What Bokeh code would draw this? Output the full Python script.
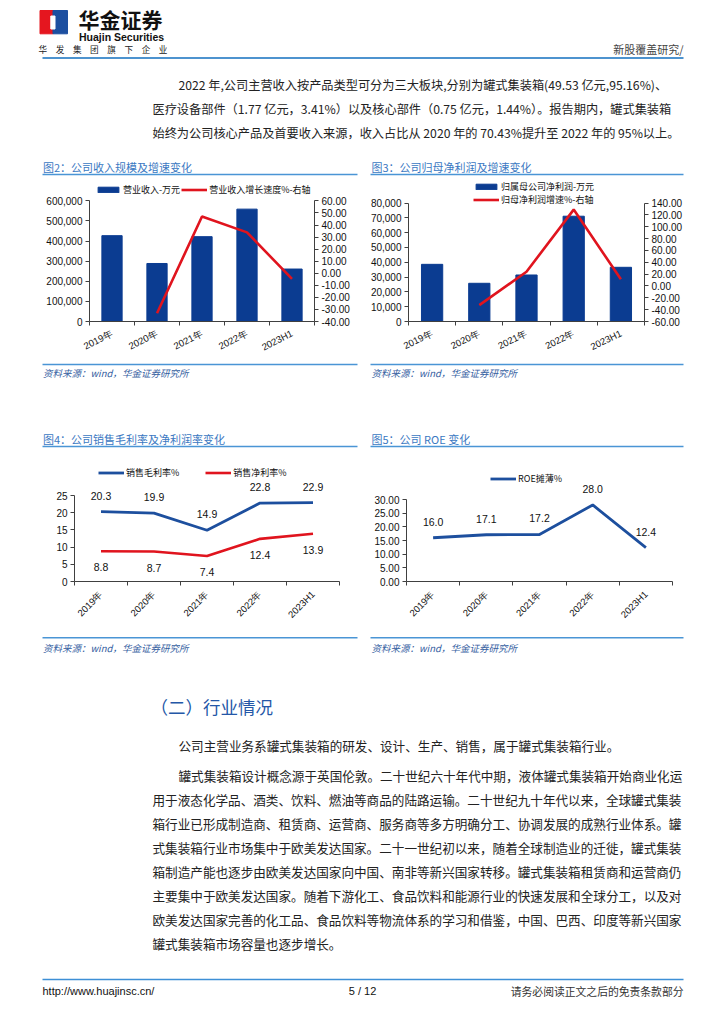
import numpy as np
from bokeh.plotting import figure
from bokeh.models import (Range1d, LinearAxis, FixedTicker, NumeralTickFormatter,
                          Legend, LegendItem, LabelSet, ColumnDataSource)
from bokeh.layouts import column, row
from bokeh.core.properties import value
from bokeh.embed import file_html
from bokeh.resources import INLINE

# ---------------- data ----------------
periods = ["2019年", "2020年", "2021年", "2022年", "2023H1"]
revenue = [427000, 288600, 422000, 559000, 261000]          # 营业收入-万元
revenue_growth = [np.nan, -33.2, 47.0, 33.9, -4.7]           # 营业收入增长速度%
net_profit = [38600, 25800, 31400, 71100, 36600]             # 归属母公司净利润-万元
profit_growth = [np.nan, -32.4, 24.0, 128.9, 11.3]           # 归母净利润增速%
gross_margin = [20.3, 19.9, 14.9, 22.8, 22.9]                # 销售毛利率%
net_margin = [8.8, 8.7, 7.4, 12.4, 13.9]                     # 销售净利率%
roe = [16.0, 17.1, 17.2, 28.0, 12.4]                         # ROE摊薄%

rev_ticks = [0, 100000, 200000, 300000, 400000, 500000, 600000]
rev_growth_ticks = [-40, -30, -20, -10, 0, 10, 20, 30, 40, 50, 60]
np_ticks = [0, 10000, 20000, 30000, 40000, 50000, 60000, 70000, 80000]
np_growth_ticks = [-60, -40, -20, 0, 20, 40, 60, 80, 100, 120, 140]
margin_ticks = [0, 5, 10, 15, 20, 25]
roe_ticks = [0, 5, 10, 15, 20, 25, 30]

titles = ["图2：公司收入规模及增速变化", "图3：公司归母净利润及增速变化",
          "图4：公司销售毛利率及净利润率变化", "图5：公司 ROE 变化"]
source_note = "资料来源：wind，华金证券研究所"

top_para = [
    "2022 年,公司主营收入按产品类型可分为三大板块,分别为罐式集装箱(49.53 亿元,95.16%)、",
    "医疗设备部件（1.77 亿元，3.41%）以及核心部件（0.75 亿元，1.44%）。报告期内，罐式集装箱",
    "始终为公司核心产品及首要收入来源，收入占比从 2020 年的 70.43%提升至 2022 年的 95%以上。",
]
heading = "（二）行业情况"
para_a = "公司主营业务系罐式集装箱的研发、设计、生产、销售，属于罐式集装箱行业。"
para_b = [
    "罐式集装箱设计概念源于英国伦敦。二十世纪六十年代中期，液体罐式集装箱开始商业化运",
    "用于液态化学品、酒类、饮料、燃油等商品的陆路运输。二十世纪九十年代以来，全球罐式集装",
    "箱行业已形成制造商、租赁商、运营商、服务商等多方明确分工、协调发展的成熟行业体系。罐",
    "式集装箱行业市场集中于欧美发达国家。二十一世纪初以来，随着全球制造业的迁徙，罐式集装",
    "箱制造产能也逐步由欧美发达国家向中国、南非等新兴国家转移。罐式集装箱租赁商和运营商仍",
    "主要集中于欧美发达国家。随着下游化工、食品饮料和能源行业的快速发展和全球分工，以及对",
    "欧美发达国家完善的化工品、食品饮料等物流体系的学习和借鉴，中国、巴西、印度等新兴国家",
    "罐式集装箱市场容量也逐步增长。",
]

# ---------------- styles ----------------
AX = "#404040"
BAR = "#0b3c91"
RED = "#e0141e"
BLUE = "#1d4f9e"
TITLE_C = "#3a78c2"
RULE_C = "#4a95d5"
SRC_C = "#35609f"
TXT_C = "#222222"
CJK = "Noto Sans CJK SC"
LAT = "Liberation Sans"

xpos = [i + 0.5 for i in range(len(periods))]
bounds = list(range(len(periods) + 1))


def strip(y0, y1):
    p = figure(width=708, height=int(round(y1 - y0)), x_range=Range1d(0, 708),
               y_range=Range1d(y1, y0), x_axis_type=None, y_axis_type=None,
               toolbar_location=None, output_backend="svg", min_border=0,
               outline_line_color=None, background_fill_color="white",
               border_fill_color="white")
    p.grid.visible = False
    return p


def put(p, x, y, s, size, color=TXT_C, font=CJK, align="left", style="normal"):
    p.text(x=[x], y=[y], text=[s], text_font=value(font), text_font_size=value(size),
           text_color=color, text_align=align, text_baseline="middle",
           text_font_style=style)


def rule(p, x0, x1, y, color=RULE_C, w=1.5):
    p.segment(x0=[x0], y0=[y], x1=[x1], y1=[y], line_color=color, line_width=w)


def extend(lo, hi, frame_h, top_off):
    # range end so that [lo, hi] fills the frame below a top offset of top_off px
    return lo + (hi - lo) * frame_h / (frame_h - top_off)


def style_y(ax, ticks, fmt):
    ax.ticker = FixedTicker(ticks=ticks, minor_ticks=[])
    ax.formatter = NumeralTickFormatter(format=fmt)
    ax.bounds = (ticks[0], ticks[-1])
    ax.axis_line_color = AX
    ax.major_tick_line_color = AX
    ax.major_tick_in = 0
    ax.major_tick_out = 4
    ax.minor_tick_line_color = None
    ax.major_label_text_font = LAT
    ax.major_label_text_font_size = "10px"
    ax.major_label_text_color = "#111111"
    ax.major_label_standoff = 3


def chart(width, height, bl, br, bb, top_off, yticks, yfmt, angle):
    frame_h = height - bb
    p = figure(width=width, height=height, x_range=Range1d(0, len(periods)),
               y_range=Range1d(yticks[0], extend(yticks[0], yticks[-1], frame_h, top_off)),
               toolbar_location=None, output_backend="svg",
               min_border_left=bl, min_border_right=br, min_border_top=0,
               min_border_bottom=bb, outline_line_color=None,
               background_fill_color="white", border_fill_color="white")
    p.xgrid.visible = False
    p.ygrid.visible = False
    xa = p.xaxis[0]
    xa.ticker = FixedTicker(ticks=xpos, minor_ticks=bounds)
    xa.major_label_overrides = dict(zip(xpos, periods))
    xa.major_label_orientation = angle
    xa.major_tick_line_color = None
    xa.major_tick_in = 0
    xa.major_tick_out = 0
    xa.minor_tick_line_color = AX
    xa.minor_tick_in = 0
    xa.minor_tick_out = 4
    xa.axis_line_color = AX
    xa.major_label_text_font = LAT
    xa.major_label_text_font_size = "9.5px"
    xa.major_label_text_color = "#111111"
    xa.major_label_standoff = 7
    style_y(p.yaxis[0], yticks, yfmt)
    return p, frame_h


def right_axis(p, ticks, frame_h, top_off):
    p.extra_y_ranges = {"g": Range1d(ticks[0], extend(ticks[0], ticks[-1], frame_h, top_off))}
    ax = LinearAxis(y_range_name="g")
    style_y(ax, ticks, "0.00")
    p.add_layout(ax, "right")


def legend(items, loc, orientation, spacing, padding=0, bg=None):
    lg = Legend(items=items, location=loc, orientation=orientation, spacing=spacing,
                padding=padding, margin=0, label_text_font=CJK,
                label_text_font_size="9px", label_text_color="#111111",
                label_standoff=2, glyph_width=26, glyph_height=7, label_height=10,
                border_line_color=None)
    if bg is None:
        lg.background_fill_alpha = 0
    else:
        lg.background_fill_color = bg
        lg.background_fill_alpha = 1
    return lg


# ---------------- top strip (page y 0..178) ----------------
top = strip(0, 178)
top.quad(left=[39.5], right=[52.5], top=[10], bottom=[33.3], color="#e5161f")
top.quad(left=[52.5], right=[67], top=[10], bottom=[33.3], color="#1d4fa0")
top.quad(left=[50.3], right=[54.5], top=[15.5], bottom=[28.5], color="white")
put(top, 78, 18.5, "华金证券", "21px", color="#111111", style="bold")
put(top, 78.5, 36.8, "Huajin Securities", "10.5px", color="#111111", font=LAT, style="bold")
put(top, 38, 48.5, "华　发　集　团　旗　下　企　业", "8.6px", color="#222222")
put(top, 683, 48, "新股覆盖研究/", "11px", color="#444444", align="right")
rule(top, 42, 683, 57.5, color="#4d93cf", w=2)
put(top, 178, 84, top_para[0], "12.2px")
put(top, 152, 108, top_para[1], "12.2px")
put(top, 152, 132, top_para[2], "12.2px")
put(top, 42.5, 166, titles[0], "11px", color=TITLE_C)
put(top, 371, 166, titles[1], "11px", color=TITLE_C)
rule(top, 42, 357, 174)
rule(top, 370, 683, 174)

# ---------------- chart 2: revenue (page x 0..354, y 178..360) ----------------
c2, fh2 = chart(354, 182, 89, 40, 37, 22.7, rev_ticks, "0,0", 0.47)
right_axis(c2, rev_growth_ticks, fh2, 22.7)
b2 = c2.vbar(x=xpos, top=revenue, width=0.45, color=BAR)
l2 = c2.line(x=xpos, y=revenue_growth, y_range_name="g", line_color=RED, line_width=2.6)
c2.add_layout(legend([LegendItem(label="营业收入-万元", renderers=[b2]),
                      LegendItem(label="营业收入增长速度%-右轴", renderers=[l2])],
                     (6, 125), "horizontal", 1))

# ---------------- chart 3: net profit (page x 354..708) ----------------
c3, fh3 = chart(354, 182, 54, 64, 38, 24.7, np_ticks, "0,0", 0.45)
right_axis(c3, np_growth_ticks, fh3, 24.7)
b3 = c3.vbar(x=xpos, top=net_profit, width=0.45, color=BAR)
l3 = c3.line(x=xpos, y=profit_growth, y_range_name="g", line_color=RED, line_width=2.6)
c3.add_layout(legend([LegendItem(label="归属母公司净利润-万元", renderers=[b3]),
                      LegendItem(label="归母净利润增速%-右轴", renderers=[l3])],
                     (65, 115), "vertical", 0))

# ---------------- middle strip (page y 360..462) ----------------
mid = strip(360, 462)
rule(mid, 42, 357, 364)
rule(mid, 370, 683, 364)
put(mid, 42.5, 372.7, source_note, "9.5px", color=SRC_C, style="italic")
put(mid, 371, 372.7, source_note, "9.5px", color=SRC_C, style="italic")
put(mid, 42.5, 438.3, titles[2], "11px", color=TITLE_C)
put(mid, 371, 438.3, titles[3], "11px", color=TITLE_C)
rule(mid, 42, 357, 446)
rule(mid, 370, 683, 446)

# ---------------- chart 4: margins (page x 0..354, y 462..632) ----------------
c4, fh4 = chart(354, 170, 74, 15, 51, 33, margin_ticks, "0", 0.785)
l4a = c4.line(x=xpos, y=gross_margin, line_color=BLUE, line_width=2.8)
l4b = c4.line(x=xpos, y=net_margin, line_color=RED, line_width=2.6)
src4 = ColumnDataSource(dict(x=xpos, g=gross_margin, n=net_margin,
                             gl=[f"{v:.1f}" for v in gross_margin],
                             nl=[f"{v:.1f}" for v in net_margin]))
for ycol, tcol, off in (("g", "gl", 16), ("n", "nl", -16)):
    c4.add_layout(LabelSet(x="x", y=ycol, text=tcol, source=src4, y_offset=off,
                           text_align="center", text_baseline="middle",
                           text_font=value(LAT), text_font_size="10.5px",
                           text_color="#111111"))
c4.add_layout(legend([LegendItem(label="销售毛利率%", renderers=[l4a]),
                      LegendItem(label="销售净利率%", renderers=[l4b])],
                     (24, 102), "horizontal", 26))

# ---------------- chart 5: ROE (page x 354..708) ----------------
c5, fh5 = chart(354, 170, 52, 36, 51, 37, roe_ticks, "0.00", 0.785)
l5 = c5.line(x=xpos, y=roe, line_color=BLUE, line_width=2.8)
src5 = ColumnDataSource(dict(x=xpos, r=roe, rl=[f"{v:.1f}" for v in roe]))
c5.add_layout(LabelSet(x="x", y="r", text="rl", source=src5, y_offset=16,
                       text_align="center", text_baseline="middle",
                       text_font=value(LAT), text_font_size="10.5px",
                       text_color="#111111"))
c5.add_layout(legend([LegendItem(label="ROE摊薄%", renderers=[l5])],
                     (84, 96), "horizontal", 0, padding=3, bg="white"))

# ---------------- bottom strip (page y 632..1008) ----------------
bot = strip(632, 1008)
rule(bot, 42, 357, 637.3)
rule(bot, 370, 683, 637.3)
put(bot, 42.5, 647.7, source_note, "9.5px", color=SRC_C, style="italic")
put(bot, 371, 647.7, source_note, "9.5px", color=SRC_C, style="italic")
put(bot, 150, 706, heading, "17.5px", color="#2457a7")
put(bot, 178, 745, para_a, "12.6px")
for i, line in enumerate(para_b):
    put(bot, 178 if i == 0 else 152, 775 + 24 * i, line, "12.6px")
rule(bot, 42, 683, 979, color="#3d8fd6", w=1.5)
put(bot, 42, 990, "http://www.huajinsc.cn/", "11px", color="#111111", font=LAT)
put(bot, 362, 990, "5 / 12", "11px", color="#111111", font=LAT, align="center")
put(bot, 683, 990, "请务必阅读正文之后的免责条款部分", "10.8px", color="#333333", align="right")

layout = column(top, row(c2, c3), mid, row(c4, c5), bot)
open("out.html", "w").write(file_html(layout, INLINE))
